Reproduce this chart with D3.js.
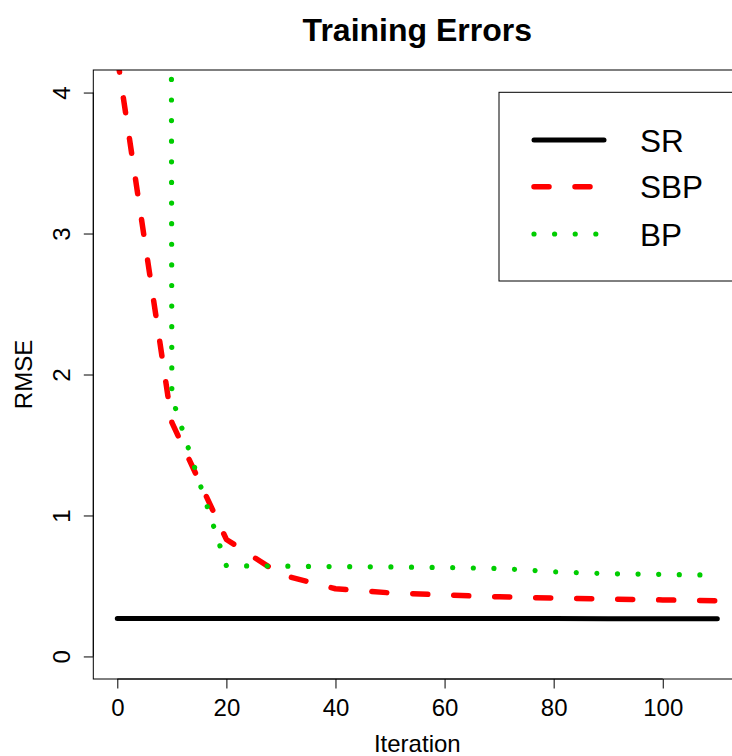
<!DOCTYPE html>
<html>
<head>
<meta charset="utf-8">
<script src="https://cdn.jsdelivr.net/npm/d3@7"></script>
<style>
    body { margin: 0; background: #ffffff; }
    text { font-family: "Liberation Sans", Arial, Helvetica, sans-serif; fill: #000; }
</style>
</head>
<body>
<div id="chart"></div>
<script>
// iterations at which the training errors were recorded
var iterations = [0, 10, 20, 30, 40, 50, 60, 70, 80, 90, 100, 110];
var srErrors = [0.27, 0.27, 0.27, 0.27, 0.27, 0.27, 0.27, 0.269, 0.269, 0.268, 0.268, 0.268];
var sbpErrors = [4.25, 1.66, 0.83, 0.58, 0.48, 0.451, 0.436, 0.423, 0.414, 0.407, 0.401, 0.395];
var bpErrors = [300, 1.84, 0.643, 0.641, 0.637, 0.635, 0.631, 0.624, 0.601, 0.587, 0.582, 0.577];

var xTicks = [0, 20, 40, 60, 80, 100];
var yTicks = [0, 1, 2, 3, 4];
var seriesNames = ['SR', 'SBP', 'BP'];

var width = 732,
    height = 756;

// plot region (R style, x range extended by 4%, ylim 0..4 extended by 4%)
// note: 'top' is taken by window.top, so the names are prefixed
var plotLeft = 93.3,
    plotRight = 741.3,
    plotTop = 70,
    plotBottom = 679;

var x = d3.scaleLinear().domain([-4.4, 114.4]).range([plotLeft, plotRight]);
var y = d3.scaleLinear().domain([-0.16, 4.16]).range([plotBottom, plotTop]);

// line styles for each series, solid / dashed / dotted
var styles = [
    {color: '#000000', dash: null, width: 5},
    {color: '#ff0000', dash: '15 26', width: 5.5},
    {color: '#00cd00', dash: '0.01 20.6', width: 5.2}
];

var svg = d3.select('#chart')
    .append('svg')
    .attr('width', width)
    .attr('height', height)
    .style('display', 'block');

svg.append('defs').append('clipPath')
    .attr('id', 'plotClip')
    .append('rect')
    .attr('x', plotLeft)
    .attr('y', plotTop)
    .attr('width', plotRight - plotLeft)
    .attr('height', plotBottom - plotTop);

// title
svg.append('text')
    .attr('x', (plotLeft + plotRight) / 2)
    .attr('y', 41)
    .attr('text-anchor', 'middle')
    .style('font-size', '32px')
    .style('font-weight', 'bold')
    .text('Training Errors');

// data lines
var line = d3.line()
    .x(function (d) { return x(d[0]) })
    .y(function (d) { return y(d[1]) });

var series = [srErrors, sbpErrors, bpErrors];

var lines = svg.append('g').attr('clip-path', 'url(#plotClip)');

series.forEach(function (values, k) {
    var pts = iterations.map(function (it, i) { return [it, values[i]] });
    var st = styles[k];
    lines.append('path')
        .attr('d', line(pts))
        .attr('fill', 'none')
        .attr('stroke', st.color)
        .attr('stroke-width', st.width)
        .attr('stroke-linecap', 'round')
        .attr('stroke-linejoin', 'round')
        .attr('stroke-dasharray', st.dash);
});

// axes
var fmt = d3.format('d');

var xAxis = svg.append('g')
    .attr('transform', 'translate(0,' + plotBottom + ')')
    .call(d3.axisBottom(x).tickValues(xTicks).tickFormat(fmt).tickSize(9.5).tickSizeOuter(0));

xAxis.selectAll('text')
    .attr('y', 36.7)
    .attr('dy', null)
    .style('font-size', '24px');

var yAxis = svg.append('g')
    .attr('transform', 'translate(' + plotLeft + ',0)')
    .call(d3.axisLeft(y).tickValues(yTicks).tickFormat(fmt).tickSize(9.5).tickSizeOuter(0));

yAxis.selectAll('text')
    .attr('x', 0)
    .attr('y', -23.3)
    .attr('dy', null)
    .attr('transform', 'rotate(-90)')
    .attr('text-anchor', 'middle')
    .style('font-size', '24px');

svg.selectAll('.domain').remove();

// axis lines only span first to last tick, like R
xAxis.append('line')
    .attr('x1', x(xTicks[0])).attr('x2', x(xTicks[xTicks.length - 1]))
    .attr('y1', 0).attr('y2', 0)
    .attr('stroke', '#000');
yAxis.append('line')
    .attr('x1', 0).attr('x2', 0)
    .attr('y1', y(yTicks[0])).attr('y2', y(yTicks[yTicks.length - 1]))
    .attr('stroke', '#000');

// box around plot region
svg.append('rect')
    .attr('x', plotLeft)
    .attr('y', plotTop)
    .attr('width', plotRight - plotLeft)
    .attr('height', plotBottom - plotTop)
    .attr('fill', 'none')
    .attr('stroke', '#000')
    .attr('stroke-width', 1);

// axis titles
svg.append('text')
    .attr('x', (plotLeft + plotRight) / 2)
    .attr('y', 752)
    .attr('text-anchor', 'middle')
    .style('font-size', '24px')
    .text('Iteration');

svg.append('text')
    .attr('transform', 'translate(31.5,' + ((plotTop + plotBottom) / 2) + ') rotate(-90)')
    .attr('text-anchor', 'middle')
    .style('font-size', '24px')
    .text('RMSE');

// legend
var legend = svg.append('g');

legend.append('rect')
    .attr('x', 499)
    .attr('y', 92.3)
    .attr('width', 300)
    .attr('height', 188.7)
    .attr('fill', '#ffffff')
    .attr('stroke', '#000')
    .attr('stroke-width', 1);

var legendY = [140, 186.7, 234];

seriesNames.forEach(function (name, k) {
    var st = styles[k];
    legend.append('line')
        .attr('x1', 534)
        .attr('x2', 604)
        .attr('y1', legendY[k])
        .attr('y2', legendY[k])
        .attr('stroke', st.color)
        .attr('stroke-width', st.width)
        .attr('stroke-linecap', 'round')
        .attr('stroke-dasharray', st.dash);
    legend.append('text')
        .attr('x', 640)
        .attr('y', legendY[k] + 11.5)
        .style('font-size', '31.5px')
        .text(name);
});
</script>
</body>
</html>
